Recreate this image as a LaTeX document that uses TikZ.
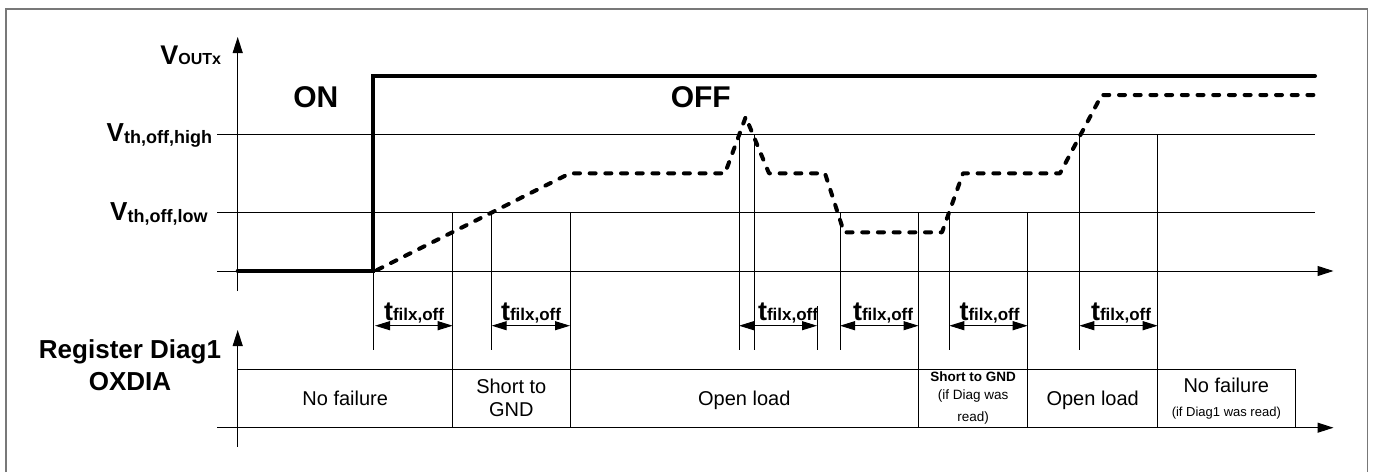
\documentclass[tikz,border=0pt]{standalone}
\usepackage{fontspec}
\setmainfont{Liberation Sans}
\usetikzlibrary{arrows.meta}
\newcommand{\fs}[1]{\fontsize{#1}{#1}\selectfont}
\tikzset{
  thin line/.style={line width=1pt, black},
  axis/.style={line width=1pt, -{Triangle[length=16pt,width=10pt]}},
  dimarrow/.style={line width=1pt, {Triangle[length=15pt,width=9pt]}-{Triangle[length=15pt,width=9pt]}},
  onsig/.style={line width=4pt, line cap=round, line join=miter},
  offsig/.style={line width=4pt, line cap=round, line join=round, dash pattern=on 6pt off 9.7pt},
  lbl/.style={inner sep=0pt, outer sep=0pt, font=\bfseries},
  boxtxt/.style={inner sep=0pt, outer sep=0pt, anchor=base},
  framecol/.style={draw={rgb,255:red,120;green,120;blue,120}, line width=1.5pt}
}
\begin{document}
\begin{tikzpicture}[x=1pt,y=-1pt]
\useasboundingbox (0,0) rectangle (1373,472);
% frame (open at bottom)
\draw[framecol] (6,472) -- (6,9) -- (1367.7,9) -- (1367.7,472);

% ---------- upper plot ----------
\coordinate (yaxB) at (237.7,291);
\coordinate (yaxT) at (237.7,37);
\coordinate (xaxL) at (217,271);
\coordinate (xaxR) at (1333.5,271);
\draw[thin line] (217,134.3) -- (1315,134.3);
\draw[thin line] (217,212.3) -- (1315,212.3);
\draw[axis] (xaxL) -- (xaxR);
\draw[axis] (yaxB) -- (yaxT);

% vertical markers
\draw[thin line] (373.3,271) -- (373.3,350);
\draw[thin line] (452.7,212.3) -- (452.7,427.7);
\draw[thin line] (491.7,212.3) -- (491.7,350);
\draw[thin line] (570,212.3) -- (570,427.7);
\draw[thin line] (739,134.3) -- (739,350);
\draw[thin line] (754.3,134.3) -- (754.3,350);
\draw[thin line] (817,306) -- (817,350);
\draw[thin line] (840,212.3) -- (840,350);
\draw[thin line] (918.5,212.3) -- (918.5,427.7);
\draw[thin line] (949.3,212.3) -- (949.3,350);
\draw[thin line] (1027.7,212.3) -- (1027.7,427.7);
\draw[thin line] (1079.3,134.3) -- (1079.3,350);
\draw[thin line] (1157.7,134.3) -- (1157.7,427.7);

% signals
\draw[onsig] (237.7,271) -- (373.3,271) -- (373.3,76) -- (1315,76);
\draw[offsig] (377,270) -- (570,173.3) -- (725,173.3) -- (745.7,117) -- (769,173.3)
  -- (825,173.3) -- (844,232.3) -- (942,232.3) -- (963,173.3) -- (1060,173.3)
  -- (1101.7,95) -- (1315,95);

% labels
\node[lbl, anchor=base east] (vout) at (221,64) {\fs{27}V\fs{16}OUTx};
\node[lbl, anchor=base east] (vhigh) at (212,141.7) {\fs{26}V\fs{18}\raisebox{-2pt}{th,off,high}};
\node[lbl, anchor=base east] (vlow) at (207.5,220) {\fs{26}V\fs{18}\raisebox{-2pt}{th,off,low}};
\node[lbl, anchor=base] (on) at (315.8,107.5) {\fs{30}ON};
\node[lbl, anchor=base] (off) at (700.8,107.5) {\fs{30}OFF};

% filter time dimensions
\foreach \a/\b/\c/\n in {375/452.7/414/1, 491.7/570/531/2, 739/817/788/3, 840/918.5/883/4, 949.3/1027.7/989.5/5, 1079.3/1157.7/1121/6}{
  \coordinate (da\n) at (\a,325.7);
  \coordinate (db\n) at (\b,325.7);
  \draw[dimarrow] (da\n) -- (db\n);
  \node[lbl, anchor=base] (tl\n) at (\c,320) {\fs{27}t\fs{17}filx,off};
}

% ---------- register plot ----------
\coordinate (ryB) at (237.7,446.7);
\coordinate (ryT) at (237.7,330);
\coordinate (rxL) at (217,427.7);
\coordinate (rxR) at (1333.5,427.7);
\draw[axis] (rxL) -- (rxR);
\draw[axis] (ryB) -- (ryT);
\draw[thin line] (237.7,369.3) -- (1295,369.3) -- (1295,427.7);

\node[lbl, align=center, anchor=base] (reg) at (130,358.3) {\fs{26}Register Diag1};
\node[lbl, anchor=base] (oxdia) at (130,390) {\fs{26}OXDIA};

\node[boxtxt] (b1) at (345.2,405) {\fs{20}No failure};
\node[boxtxt] (b2a) at (511.3,393.3) {\fs{20}Short to};
\node[boxtxt] (b2b) at (511.3,416.7) {\fs{20}GND};
\node[boxtxt] (b3) at (744.3,405) {\fs{20}Open load};
\node[boxtxt] (b4a) at (973.1,381.7) {\fs{13.5}\bfseries Short to GND};
\node[boxtxt] (b4b) at (973.1,399) {\fs{13.5}(if Diag was};
\node[boxtxt] (b4c) at (973.1,421.2) {\fs{13.5}read)};
\node[boxtxt] (b5) at (1092.7,405) {\fs{20}Open load};
\node[boxtxt] (b6a) at (1226.3,392.7) {\fs{20}No failure};
\node[boxtxt] (b6b) at (1226.3,416.7) {\fs{13}(if Diag1 was read)};
\end{tikzpicture}
\end{document}
